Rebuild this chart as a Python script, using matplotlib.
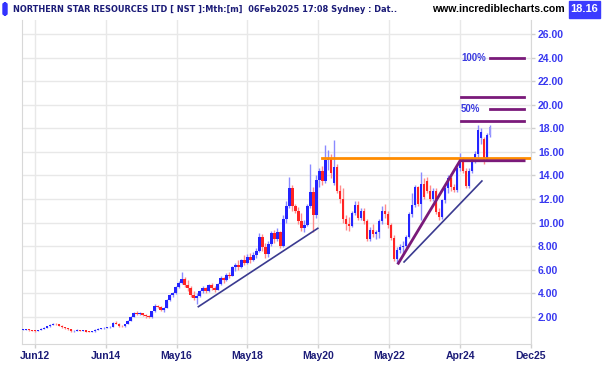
import numpy as np
import pandas as pd
import matplotlib
matplotlib.use("Agg")
import matplotlib.pyplot as plt
from matplotlib import font_manager
from matplotlib.patches import FancyBboxPatch, Rectangle

# monthly candles for NST, Feb 2012 .. Feb 2025
first_month = "2012-02"
opens = [
    0.88, 0.90, 0.92, 0.86, 0.82, 0.78, 0.86, 0.96, 1.08, 1.20, 1.30,
    1.42, 1.36, 1.24, 1.10, 1.00, 0.95, 0.76, 0.82, 0.86, 0.80, 0.84, 0.74,
    0.72, 0.76, 0.90, 0.98, 1.02, 1.05, 1.10, 1.16, 1.48, 1.40, 1.22, 1.18,
    1.38, 1.62, 2.00, 2.32, 2.25, 2.30, 2.12, 2.05, 1.95, 2.45, 2.90, 2.80,
    2.55, 2.75, 3.40, 3.85, 4.00, 4.50, 4.90, 5.20, 4.70, 4.40, 3.85, 3.60,
    3.80, 4.20, 4.40, 4.15, 4.70, 4.45, 4.30, 4.80, 5.30, 5.10, 5.55, 5.50,
    6.20, 6.40, 6.20, 6.80, 6.60, 7.10, 6.80, 7.20, 7.60, 8.80, 7.90, 7.30,
    8.20, 9.10, 8.60, 9.20, 8.00, 10.30, 11.40, 12.90, 11.40, 11.00, 10.10, 9.50,
    9.80, 11.40, 12.60, 10.60, 13.60, 14.40, 13.50, 15.30, 15.50, 13.40, 14.70, 12.70,
    12.00, 10.30, 9.90, 9.70, 10.80, 11.50, 10.40, 11.00, 10.10, 8.60, 9.40, 9.00,
    9.20, 10.10, 11.00, 10.70, 9.80, 8.70, 6.90, 7.70, 7.90, 8.00, 8.80, 10.70,
    11.50, 13.00, 11.60, 13.30, 13.50, 12.70, 12.00, 12.70, 10.90, 10.50, 11.90, 12.90,
    13.80, 13.00, 12.80, 14.60, 15.40, 14.40, 13.10, 14.40, 15.40, 15.80, 17.20, 17.10,
    15.30, 17.40,
]
highs = [
    0.95, 0.96, 0.95, 0.90, 0.86, 0.90, 1.00, 1.12, 1.25, 1.35, 1.48,
    1.50, 1.42, 1.28, 1.15, 1.08, 0.98, 0.86, 0.92, 0.90, 0.88, 0.86, 0.80,
    0.80, 0.92, 1.02, 1.06, 1.10, 1.14, 1.22, 1.55, 1.62, 1.45, 1.30, 1.42,
    1.70, 2.05, 2.40, 2.45, 2.40, 2.35, 2.20, 2.15, 2.50, 3.10, 3.00, 2.90,
    2.85, 3.50, 3.95, 4.10, 4.60, 5.00, 5.80, 5.40, 5.10, 4.60, 4.20, 4.00,
    4.30, 4.60, 4.50, 4.80, 4.90, 4.60, 4.90, 5.50, 5.40, 5.70, 5.80, 6.30,
    6.60, 6.80, 6.90, 7.20, 7.30, 7.40, 7.50, 7.80, 9.10, 9.00, 8.30, 8.40,
    9.30, 9.40, 9.50, 9.30, 10.60, 11.80, 13.90, 13.20, 11.60, 11.30, 10.80, 10.20,
    11.60, 15.00, 13.00, 14.00, 14.60, 14.80, 16.60, 16.20, 15.80, 17.00, 15.00, 13.20,
    12.90, 10.60, 10.50, 11.00, 11.80, 11.80, 11.20, 11.20, 10.30, 9.60, 9.90, 9.40,
    10.30, 11.40, 11.60, 11.00, 10.00, 8.90, 7.90, 8.20, 8.40, 8.90, 10.90, 12.50,
    13.20, 13.10, 14.30, 13.80, 13.90, 13.20, 12.90, 12.90, 11.20, 12.00, 13.10, 14.00,
    14.00, 13.30, 14.80, 15.90, 15.60, 14.60, 14.60, 15.60, 16.10, 18.30, 18.00, 17.30,
    17.60, 18.30,
]
lows = [
    0.84, 0.86, 0.82, 0.78, 0.72, 0.76, 0.84, 0.94, 1.05, 1.15, 1.26,
    1.30, 1.18, 1.05, 0.92, 0.88, 0.70, 0.68, 0.78, 0.76, 0.76, 0.70, 0.66,
    0.68, 0.74, 0.86, 0.94, 0.98, 1.00, 1.06, 1.14, 1.36, 1.15, 1.10, 1.12,
    1.35, 1.60, 1.95, 2.18, 2.15, 2.05, 1.90, 1.85, 1.92, 2.40, 2.70, 2.45,
    2.40, 2.70, 3.30, 3.70, 3.95, 4.40, 4.80, 4.50, 4.20, 3.70, 3.40, 3.05,
    3.70, 4.00, 4.00, 4.10, 4.30, 4.10, 4.25, 4.70, 4.90, 5.00, 5.30, 5.45,
    5.90, 6.00, 6.10, 6.40, 6.50, 6.60, 6.70, 7.00, 7.50, 7.60, 7.00, 7.10,
    8.00, 8.30, 8.40, 7.80, 7.90, 10.00, 11.20, 11.00, 10.80, 9.90, 9.30, 9.20,
    9.70, 11.20, 9.20, 10.40, 13.00, 13.20, 13.40, 14.50, 13.80, 13.20, 12.50, 11.70,
    10.00, 9.40, 9.30, 9.60, 10.60, 10.20, 10.20, 9.90, 8.40, 8.40, 8.80, 8.60,
    8.70, 9.90, 10.40, 9.50, 8.50, 6.70, 6.60, 7.40, 7.40, 7.80, 8.70, 10.50,
    11.30, 11.40, 10.20, 12.00, 12.50, 11.80, 11.80, 10.70, 10.20, 10.30, 11.70, 12.50,
    12.70, 12.60, 12.60, 14.40, 14.20, 12.90, 12.90, 14.20, 15.10, 15.50, 16.70, 15.00,
    15.20, 17.30,
]
closes = [
    0.90, 0.92, 0.86, 0.82, 0.78, 0.86, 0.96, 1.08, 1.20, 1.30, 1.42,
    1.36, 1.24, 1.10, 1.00, 0.95, 0.76, 0.82, 0.86, 0.80, 0.84, 0.74, 0.72,
    0.76, 0.90, 0.98, 1.02, 1.05, 1.10, 1.16, 1.48, 1.40, 1.22, 1.18, 1.38,
    1.62, 2.00, 2.32, 2.25, 2.30, 2.12, 2.05, 1.95, 2.45, 2.90, 2.80, 2.55,
    2.75, 3.40, 3.85, 4.00, 4.50, 4.90, 5.20, 4.70, 4.40, 3.85, 3.60, 3.80,
    4.20, 4.40, 4.15, 4.70, 4.45, 4.30, 4.80, 5.30, 5.10, 5.55, 5.50, 6.20,
    6.40, 6.20, 6.80, 6.60, 7.10, 6.80, 7.20, 7.60, 8.80, 7.90, 7.30, 8.20,
    9.10, 8.60, 9.20, 8.00, 10.30, 11.40, 12.90, 11.40, 11.00, 10.10, 9.50, 9.80,
    11.40, 12.60, 10.60, 13.60, 14.40, 13.50, 15.30, 15.50, 14.20, 14.70, 12.70, 12.00,
    10.30, 9.90, 9.70, 10.80, 11.50, 10.40, 11.00, 10.10, 8.60, 9.40, 9.00, 9.20,
    10.10, 11.00, 10.70, 9.80, 8.70, 6.90, 7.70, 7.90, 8.00, 8.80, 10.70, 11.50,
    13.00, 11.60, 13.30, 12.20, 12.70, 12.00, 12.70, 10.90, 10.50, 11.90, 12.90, 13.80,
    13.00, 12.80, 14.60, 15.40, 14.40, 13.10, 14.40, 15.40, 15.80, 17.90, 17.70, 15.30,
    17.40, 18.16,
]

tick_labels = ["Jun12", "Jun14", "May16", "May18", "May20", "May22", "Apr24", "Dec25"]
y_ticks = list(range(2, 27, 2))

# drawn lines (month index from Jun 2012, price)
orange_level = 15.5
orange_start = 95.8
channel = [(121.4, 6.54), (142.0, 15.25), (163.4, 15.25)]
trend1 = [(54.6, 2.85), (94.5, 9.51)]
trend2 = [(123.3, 6.65), (149.3, 13.53)]
fib_long = [20.69, 18.65]
fib_short = [23.98, 19.65]
fib_labels = ["100%", "50%"]

title = "NORTHERN STAR RESOURCES LTD [ NST ]:Mth:[m]  06Feb2025 17:08 Sydney : Dat.."

W, H = 602, 365
fig = plt.figure(figsize=(W / 100, H / 100), dpi=100)
ax = fig.add_axes([22 / W, 1 - 344 / H, (531 - 22) / W, (344 - 20) / H])

months = pd.period_range(first_month, periods=len(closes), freq="M")
t = np.array([(p.year - 2012) * 12 + p.month - 6 for p in months])
o, h, l, c = (np.array(a) for a in (opens, highs, lows, closes))

up = c >= o
body_col = np.where(up, "#2424ff", "#ff2424").astype(object)
wick_col = np.where(up, "#8a8aff", "#ff8a8a").astype(object)
body_col[-1] = "#9a9aff"  # current month, still open

ax.vlines(t, l, h, colors=list(wick_col), lw=1, zorder=2)
ax.bar(t, np.maximum(np.abs(c - o), 0.06), bottom=np.minimum(o, c), width=0.8,
       color=list(body_col), linewidth=0, zorder=3)

xmax = 165.7
ax.plot([orange_start, xmax], [orange_level, orange_level], color="#ff8c00", lw=2, zorder=4)
ax.plot(*zip(*channel), color="#7a1a7a", lw=2, zorder=4)
ax.plot(*zip(*trend1), color="#3a3a90", lw=1.2, zorder=4)
ax.plot(*zip(*trend2), color="#3a3a90", lw=1.2, zorder=4)
for v in fib_long:
    ax.plot([142.3, 163.4], [v, v], color="#7a1a7a", lw=2, zorder=4)
for v, lab in zip(fib_short, fib_labels):
    ax.plot([152.1, 163.4], [v, v], color="#7a1a7a", lw=2, zorder=4)
    ax.text(142.3, v, lab, color="#3a3ae0", fontsize=7, fontweight="bold",
            family="Liberation Sans", va="center", ha="left")

ax.set_xlim(-4.3, xmax)
ax.set_ylim(-0.32, 27.21)
ax.set_xticks(np.arange(len(tick_labels)) * 23.67)
ax.set_xticklabels(tick_labels, fontsize=7.5, fontweight="bold", color="#1c1c78",
                   family="Liberation Sans")
ax.set_yticks(y_ticks)
ax.set_yticklabels([f"{v:.2f}" for v in y_ticks], fontsize=7.5, fontweight="bold",
                   color="#3838f0", family="Liberation Sans")
ax.yaxis.tick_right()
ax.tick_params(axis="both", length=3, width=1, color="#d0d0d0", pad=2)
ax.grid(color="#e8e8e8", lw=1, zorder=0)
ax.set_axisbelow(True)
ax.spines["top"].set_visible(False)
for side in ("left", "right", "bottom"):
    ax.spines[side].set_color("#d8d8d8")

# header strip: prefer a narrow bold face, else shrink to fit
head_font = dict(family="Liberation Sans", stretch="normal")
for fam in ("Liberation Sans Narrow", "DejaVu Sans"):
    try:
        path = font_manager.findfont(
            font_manager.FontProperties(family=fam, weight="bold", stretch="condensed"),
            fallback_to_default=False)
    except ValueError:
        continue
    if "narrow" in path.lower() or "condensed" in path.lower():
        head_font = dict(family=fam, stretch="condensed")
        break

fig.patches.append(FancyBboxPatch((3 / W, 1 - 15 / H), 4 / W, 12 / H,
                                  boxstyle="round,pad=0,rounding_size=0.004",
                                  transform=fig.transFigure, color="#3333ff"))
head = fig.text(13 / W, 1 - 9 / H, title, fontsize=8, fontweight="bold",
                color="#1c1c78", va="center", **head_font)
renderer = fig.canvas.get_renderer()
width = head.get_window_extent(renderer).width
if width > 386:
    head.set_fontsize(8 * 386 / width)

fig.text(432 / W, 1 - 9 / H, "www.incrediblecharts.com", fontsize=7.6,
         fontweight="bold", color="black", va="center", family="Liberation Sans")
fig.patches.append(Rectangle((569 / W, 1 - 18 / H), 31 / W, 17 / H,
                             transform=fig.transFigure, color="#3b3bff"))
fig.text(584.5 / W, 1 - 9.5 / H, f"{closes[-1]:.2f}", fontsize=8, fontweight="bold",
         color="white", va="center", ha="center", family="Liberation Sans")

fig.savefig("out.png", dpi=100)
